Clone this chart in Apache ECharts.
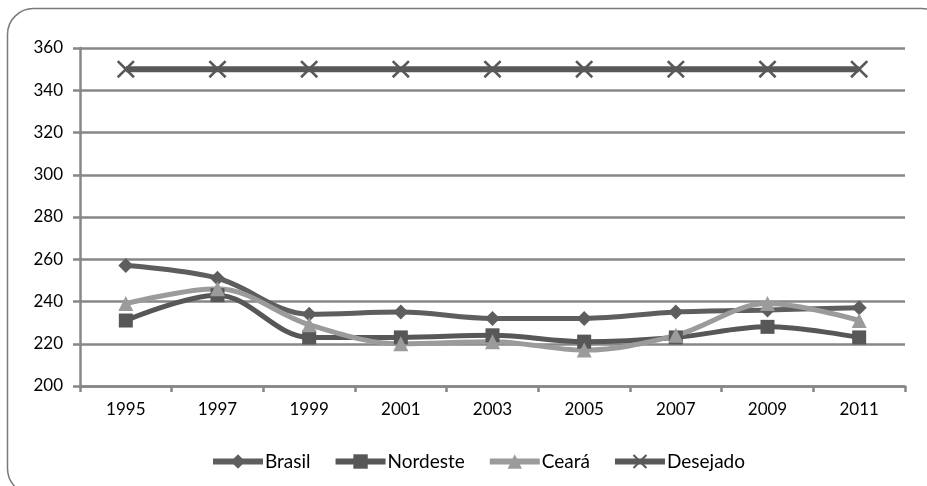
<!DOCTYPE html>
<html>
<head>
<meta charset="utf-8">
<script src="https://cdn.jsdelivr.net/npm/echarts@6/dist/echarts.min.js"></script>
<style>html,body{margin:0;padding:0;background:#fff;}#c{width:927px;height:486px;}</style>
</head>
<body>
<div id="c"></div>
<script>
const years = ['1995','1997','1999','2001','2003','2005','2007','2009','2011'];
const brasil = [257, 251, 234, 235, 232, 232, 235, 236, 237];
const nordeste = [231, 243, 223, 223, 224, 221, 223, 228, 223];
const ceara = [239, 246, 229, 220, 221, 217, 224, 239, 231];
const desejado = [350, 350, 350, 350, 350, 350, 350, 350, 350];
const yTicks = [200, 220, 240, 260, 280, 300, 320, 340, 360];

const xSymbol = 'path://M0,1L1,0L5,4L9,0L10,1L6,5L10,9L9,10L5,6L1,10L0,9L4,5Z';
const font = 'Lato, "Open Sans", sans-serif';
const grid = '#878787';

function lineSeries(name, data, color, symbol, size, width) {
  return {
    name: name, type: 'line', data: data, smooth: 0.35,
    symbol: symbol, symbolSize: size, showAllSymbol: true,
    lineStyle: {color: color, width: width},
    itemStyle: {color: color},
    emphasis: {disabled: true}
  };
}

const chart = echarts.init(document.getElementById('c'), null, {renderer: 'canvas'});
chart.setOption({
  animation: false,
  backgroundColor: '#fff',
  textStyle: {fontFamily: font},
  graphic: [{
    type: 'rect', left: 5, top: 6, z: -10,
    shape: {width: 940, height: 486, r: 26},
    style: {fill: 'none', stroke: '#7a7a7a', lineWidth: 1.5}
  }],
  grid: {left: 80, right: 22, top: 48, bottom: 100},
  xAxis: {
    type: 'category', data: years, boundaryGap: true,
    axisLine: {lineStyle: {color: grid, width: 2.5}},
    axisTick: {show: true, length: 6, lineStyle: {color: grid, width: 2.5}},
    axisLabel: {color: '#000', fontSize: 17, margin: 15, fontFamily: font}
  },
  yAxis: {
    type: 'value', min: yTicks[0], max: yTicks[yTicks.length - 1], interval: 20,
    axisLine: {show: true, lineStyle: {color: grid, width: 2.5}},
    axisTick: {show: true, length: 7, lineStyle: {color: grid, width: 2.5}},
    axisLabel: {color: '#000', fontSize: 17, margin: 17, fontFamily: font},
    splitLine: {show: true, lineStyle: {color: grid, width: 2.5}}
  },
  legend: {
    left: 205, top: 447, itemWidth: 50, itemHeight: 18, itemGap: 22,
    lineStyle: {width: 6},
    textStyle: {color: '#000', fontSize: 19, fontFamily: font, padding: [0, 0, 0, -3]},
    data: ['Brasil', 'Nordeste', 'Ceará', 'Desejado']
  },
  series: [
    lineSeries('Brasil', brasil, '#5e5e5e', 'diamond', 15, 5),
    lineSeries('Nordeste', nordeste, '#575757', 'rect', 14, 5),
    lineSeries('Ceará', ceara, '#9b9b9b', 'triangle', 15, 5),
    lineSeries('Desejado', desejado, '#585858', xSymbol, 18, 6)
  ]
});
</script>
</body>
</html>
